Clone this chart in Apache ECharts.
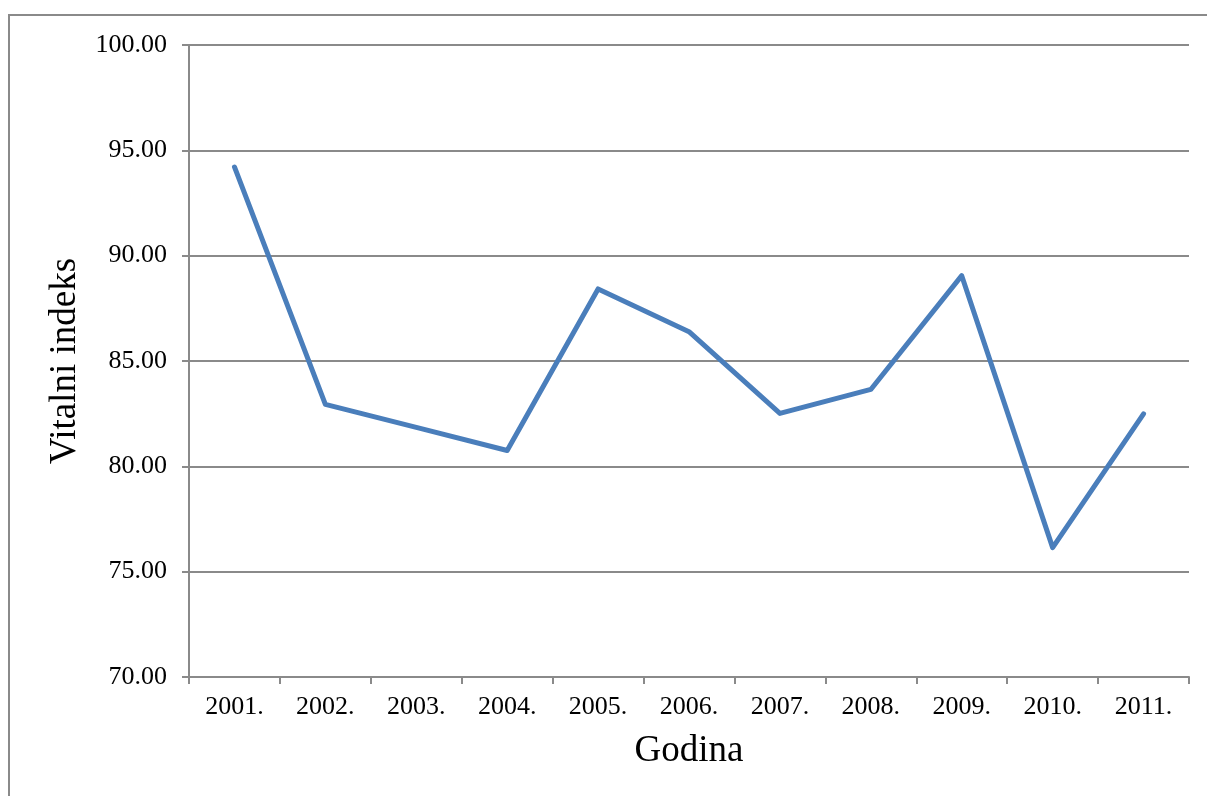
<!DOCTYPE html>
<html>
<head>
<meta charset="utf-8">
<script src="https://cdn.jsdelivr.net/npm/echarts@6/dist/echarts.min.js"></script>
<style>
html,body{margin:0;padding:0;background:#fff;}
#main{width:1207px;height:796px;}
</style>
</head>
<body>
<div id="main"></div>
<script>
const categories = ['2001.', '2002.', '2003.', '2004.', '2005.', '2006.', '2007.', '2008.', '2009.', '2010.', '2011.'];
const values = [94.21, 82.94, 81.85, 80.75, 88.42, 86.39, 82.51, 83.65, 89.05, 76.14, 82.49];
const xName = 'Godina';
const yName = 'Vitalni indeks';

const chart = echarts.init(document.getElementById('main'), null, {renderer: 'canvas'});
const font = 'Liberation Serif, Times New Roman, serif';
const gray = '#8a8a8a';
chart.setOption({
  animation: false,
  backgroundColor: '#fff',
  graphic: [{
    type: 'rect',
    shape: {x: 9, y: 15, width: 1210, height: 800},
    style: {fill: 'none', stroke: gray, lineWidth: 2},
    silent: true
  }],
  grid: {left: 189, top: 45, right: 18, bottom: 119},
  xAxis: {
    type: 'category',
    data: categories,
    boundaryGap: true,
    name: xName,
    nameLocation: 'middle',
    nameGap: 56,
    nameTextStyle: {fontFamily: font, fontSize: 37, color: '#000'},
    axisLine: {lineStyle: {color: gray, width: 2}},
    axisTick: {show: true, length: 7, alignWithLabel: false, lineStyle: {color: gray, width: 2}},
    axisLabel: {fontFamily: font, fontSize: 26, color: '#000', margin: 17, interval: 0}
  },
  yAxis: {
    type: 'value',
    min: 70, max: 100, interval: 5,
    name: yName,
    nameLocation: 'middle',
    nameGap: 105,
    nameTextStyle: {fontFamily: font, fontSize: 37, color: '#000'},
    axisLine: {show: true, lineStyle: {color: gray, width: 2}},
    axisTick: {show: true, length: 7, lineStyle: {color: gray, width: 2}},
    axisLabel: {fontFamily: font, fontSize: 26, color: '#000', margin: 22,
      formatter: v => v.toFixed(2)},
    splitLine: {show: true, lineStyle: {color: gray, width: 2}}
  },
  series: [{
    type: 'line',
    data: values,
    symbol: 'none',
    lineStyle: {color: '#4a7ebb', width: 5, cap: 'round', join: 'round'},
    itemStyle: {color: '#4a7ebb'}
  }]
});
</script>
</body>
</html>
